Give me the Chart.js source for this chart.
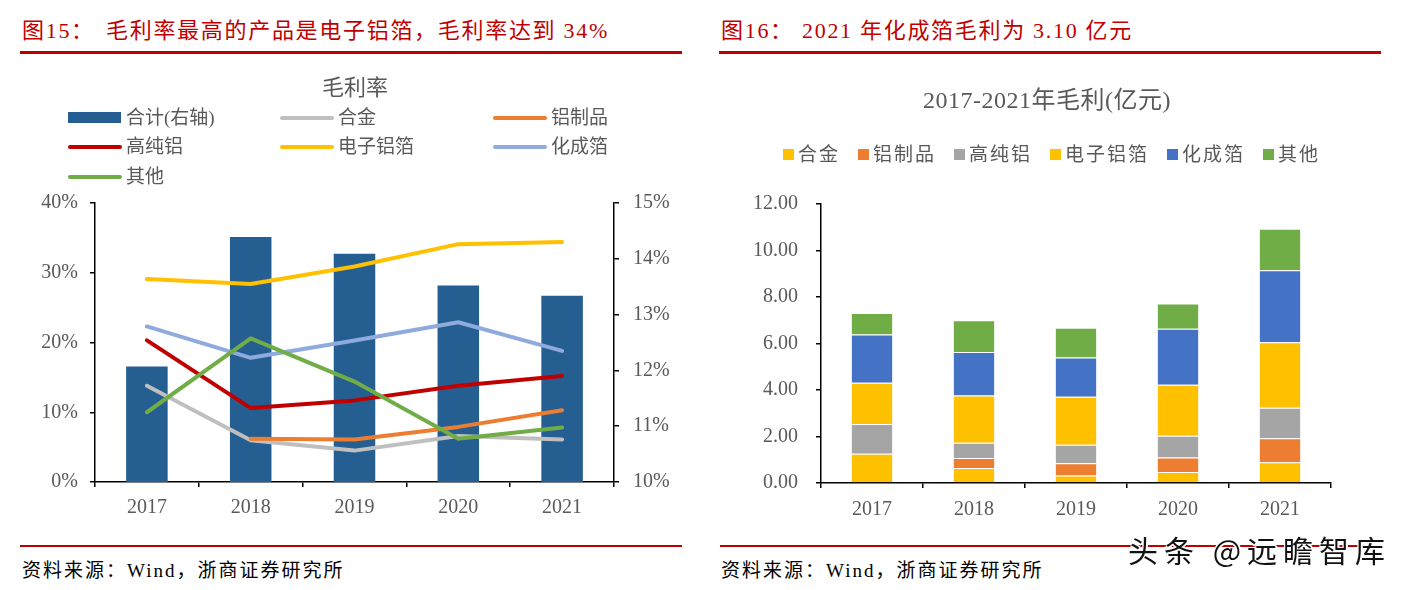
<!DOCTYPE html>
<html>
<head>
<meta charset="utf-8">
<script src="https://cdn.jsdelivr.net/npm/chart.js@4.4.1/dist/chart.umd.min.js"></script>
<style>
  html, body { margin: 0; padding: 0; background: #fff; }
  #page { position: relative; width: 1404px; height: 590px; overflow: hidden; background: #fff;
          font-family: "Liberation Serif", "Noto Sans CJK SC", serif; }
  .abs { position: absolute; white-space: nowrap; }
  .hdr { color: #C00000; font-size: 22px; letter-spacing: 1.7px; line-height: 1; }
  .rule { position: absolute; height: 2.5px; background: #C00000; }
  .foot { font-size: 19px; letter-spacing: 2px; color: #000; line-height: 1; }
  .ctitle { color: #595959; font-size: 22px; line-height: 1; }
  .leg { color: #595959; font-size: 19px; line-height: 1; }
  canvas { position: absolute; top: 0; }
  .wm { font-family: "Noto Sans CJK SC", sans-serif; font-size: 30px; letter-spacing: 6px; color: #111; line-height: 1;
        text-shadow: -1px -1px 0 #fff, 1px -1px 0 #fff, -1px 1px 0 #fff, 1px 1px 0 #fff, 0 2px 0 #fff, 2px 0 0 #fff; }
</style>
</head>
<body>
<div id="page">
  <div class="abs hdr" style="left:22px; top:20px;">图15：</div>
  <div class="abs hdr" style="left:106px; top:20px;">毛利率最高的产品是电子铝箔，毛利率达到 34%</div>
  <div class="rule" style="left:20px; width:662px; top:51px;"></div>
  <div class="abs hdr" style="left:721px; top:20px;">图16：</div>
  <div class="abs hdr" style="left:802px; top:20px;">2021 年化成箔毛利为 3.10 亿元</div>
  <div class="rule" style="left:719px; width:662px; top:51px;"></div>

  <div class="rule" style="left:20px; width:662px; top:545px; height:2px;"></div>
  <div class="rule" style="left:720px; width:661px; top:545px; height:2px;"></div>
  <div class="abs foot" style="left:22px; top:561px;">资料来源：Wind，浙商证券研究所</div>
  <div class="abs foot" style="left:721px; top:561px;">资料来源：Wind，浙商证券研究所</div>

  <canvas id="c1" width="700" height="530" style="left:0px;"></canvas>
  <canvas id="c2" width="700" height="530" style="left:700px;"></canvas>

  <div class="abs ctitle" style="left:0; width:710px; text-align:center; top:77px;">毛利率</div>
  <div class="abs ctitle" style="left:700px; width:694px; text-align:center; top:88px; font-size:24px; letter-spacing:0.5px;">2017-2021年毛利(亿元)</div>
  <div id="leg1"></div>
  <div id="leg2" class="abs" style="left:783px; top:145px; display:flex; gap:18px;"></div>

  <div class="abs wm" style="left:1128px; top:534px;">头条 @远瞻智库</div>
</div>
<script>
// ---------- Data ----------
const years = ['2017', '2018', '2019', '2020', '2021'];

// Figure 15: gross margin (%)
const totalMargin      = [12.07, 14.39, 14.09, 13.52, 13.34]; // 合计 (right axis)
const alloyMargin      = [13.8, 6.0, 4.5, 6.6, 6.1];          // 合金
const productMargin    = [null, 6.2, 6.1, 7.9, 10.3];         // 铝制品
const highPureMargin   = [20.3, 10.6, 11.7, 13.8, 15.2];      // 高纯铝
const elecFoilMargin   = [29.1, 28.4, 30.9, 34.1, 34.4];      // 电子铝箔
const formedFoilMargin = [22.3, 17.8, 20.3, 22.9, 18.8];      // 化成箔
const otherMargin      = [10.0, 20.6, 14.4, 6.2, 7.8];        // 其他

const leftTicks  = [0, 10, 20, 30, 40];
const rightTicks = [10, 11, 12, 13, 14, 15];

// Figure 16: gross profit (亿元)
const alloyProfit      = [1.26, 0.65, 0.32, 0.47, 0.89];
const productProfit    = [0, 0.42, 0.53, 0.63, 1.03];
const highPureProfit   = [1.28, 0.66, 0.80, 0.93, 1.32];
const elecFoilProfit   = [1.77, 2.03, 2.06, 2.20, 2.81];
const formedFoilProfit = [2.08, 1.87, 1.69, 2.40, 3.10];
const otherProfit      = [0.92, 1.37, 1.28, 1.09, 1.79];
const profitTicks = [0, 2, 4, 6, 8, 10, 12];

// ---------- Styles ----------
const tickFont = { family: '"Liberation Serif", serif', size: 20 };
const tickColor = '#595959';

function axisGrid() {
  return { display: true, drawOnChartArea: false, drawTicks: true, tickLength: 5,
           color: '#000', tickColor: '#000', tickWidth: 1.5, lineWidth: 1.5 };
}
function border() { return { display: true, color: '#000', width: 1.5 }; }

// ---------- Chart 1 ----------
const lineSeries = [
  { label: '合金',   data: alloyMargin,      color: '#BFBFBF' },
  { label: '铝制品', data: productMargin,    color: '#ED7D31' },
  { label: '高纯铝', data: highPureMargin,   color: '#C00000' },
  { label: '电子铝箔', data: elecFoilMargin, color: '#FFC000' },
  { label: '化成箔', data: formedFoilMargin, color: '#8FAADC' },
  { label: '其他',   data: otherMargin,      color: '#70AD47' },
];

const ds1 = [{
  type: 'bar', label: '合计(右轴)', data: totalMargin, yAxisID: 'y1',
  backgroundColor: '#255E91', barPercentage: 0.4, categoryPercentage: 1.0, order: 10
}].concat(lineSeries.map((s, i) => ({
  type: 'line', label: s.label, data: s.data, yAxisID: 'y',
  borderColor: s.color, backgroundColor: s.color, borderWidth: 4,
  pointRadius: 0, tension: 0, borderCapStyle: 'round', borderJoinStyle: 'round',
  spanGaps: false, order: 6 - i
})));

new Chart(document.getElementById('c1'), {
  data: { labels: years, datasets: ds1 },
  options: {
    responsive: false, animation: false,
    layout: { padding: { left: 15, right: 6, top: 203, bottom: 8 } },
    plugins: { legend: { display: false }, title: { display: false }, tooltip: { enabled: false } },
    scales: {
      x: { offset: true, grid: Object.assign(axisGrid(), { offset: true }), border: border(),
           ticks: { font: tickFont, color: tickColor, padding: 9, maxRotation: 0 },
           afterFit: s => { s.height = 40; } },
      y: { position: 'left', min: 0, max: 40, grid: axisGrid(), border: border(),
           afterBuildTicks: s => { s.ticks = leftTicks.map(v => ({ value: v })); },
           ticks: { font: tickFont, color: tickColor, padding: 12, callback: v => v + '%' },
           afterFit: s => { s.width = 80; } },
      y1: { position: 'right', min: 10, max: 15, grid: axisGrid(), border: border(),
           afterBuildTicks: s => { s.ticks = rightTicks.map(v => ({ value: v })); },
           ticks: { font: tickFont, color: tickColor, padding: 14, callback: v => v + '%' },
           afterFit: s => { s.width = 80; } }
    }
  }
});

// ---------- Chart 2 ----------
const stackSeries = [
  { label: '合金',     data: alloyProfit,      color: '#FFC000' },
  { label: '铝制品',   data: productProfit,    color: '#ED7D31' },
  { label: '高纯铝',   data: highPureProfit,   color: '#A5A5A5' },
  { label: '电子铝箔', data: elecFoilProfit,   color: '#FFC000' },
  { label: '化成箔',   data: formedFoilProfit, color: '#4472C4' },
  { label: '其他',     data: otherProfit,      color: '#70AD47' },
];

new Chart(document.getElementById('c2'), {
  type: 'bar',
  data: { labels: years, datasets: stackSeries.map(s => ({
    label: s.label, data: s.data, backgroundColor: s.color,
    borderColor: 'rgba(255,255,255,0.55)', borderWidth: { top: 1, left: 0, right: 0, bottom: 0 },
    borderSkipped: false, barPercentage: 0.4, categoryPercentage: 1.0, stack: 's'
  })) },
  options: {
    responsive: false, animation: false,
    layout: { padding: { left: 31, right: 69, top: 204, bottom: 7 } },
    plugins: { legend: { display: false }, title: { display: false }, tooltip: { enabled: false } },
    scales: {
      x: { stacked: true, offset: true, grid: Object.assign(axisGrid(), { offset: true }), border: border(),
           ticks: { font: tickFont, color: tickColor, padding: 10, maxRotation: 0 },
           afterFit: s => { s.height = 40; } },
      y: { stacked: true, min: 0, max: 12, grid: axisGrid(), border: border(),
           afterBuildTicks: s => { s.ticks = profitTicks.map(v => ({ value: v })); },
           ticks: { font: tickFont, color: tickColor, padding: 18, callback: v => v.toFixed(2) },
           afterFit: s => { s.width = 90; } }
    }
  }
});

// ---------- Legends (HTML, built from series) ----------
const leg1 = document.getElementById('leg1');
const leg1Items = [{ label: '合计(右轴)', color: '#255E91', bar: true }].concat(lineSeries);
const colX = [68, 280, 493], rowY = [118, 147, 177];
leg1Items.forEach((it, i) => {
  const cx = colX[i % 3], cy = rowY[Math.floor(i / 3)];
  const sw = document.createElement('div');
  sw.className = 'abs';
  if (it.bar) {
    Object.assign(sw.style, { left: cx + 'px', top: (cy - 6) + 'px', width: '53px', height: '11px', background: it.color });
  } else {
    Object.assign(sw.style, { left: cx + 'px', top: (cy - 2) + 'px', width: '54px', height: '4px', background: it.color, borderRadius: '2px' });
  }
  leg1.appendChild(sw);
  const t = document.createElement('div');
  t.className = 'abs leg';
  t.textContent = it.label;
  Object.assign(t.style, { left: (cx + 58) + 'px', top: (cy - 10) + 'px' });
  leg1.appendChild(t);
});

const leg2 = document.getElementById('leg2');
stackSeries.forEach(s => {
  const item = document.createElement('div');
  item.style.display = 'flex'; item.style.alignItems = 'center';
  const b = document.createElement('div');
  Object.assign(b.style, { width: '11px', height: '11px', background: s.color, marginRight: '4px' });
  const t = document.createElement('div');
  t.className = 'leg'; t.style.letterSpacing = '2px'; t.textContent = s.label;
  item.appendChild(b); item.appendChild(t);
  leg2.appendChild(item);
});
</script>
</body>
</html>
